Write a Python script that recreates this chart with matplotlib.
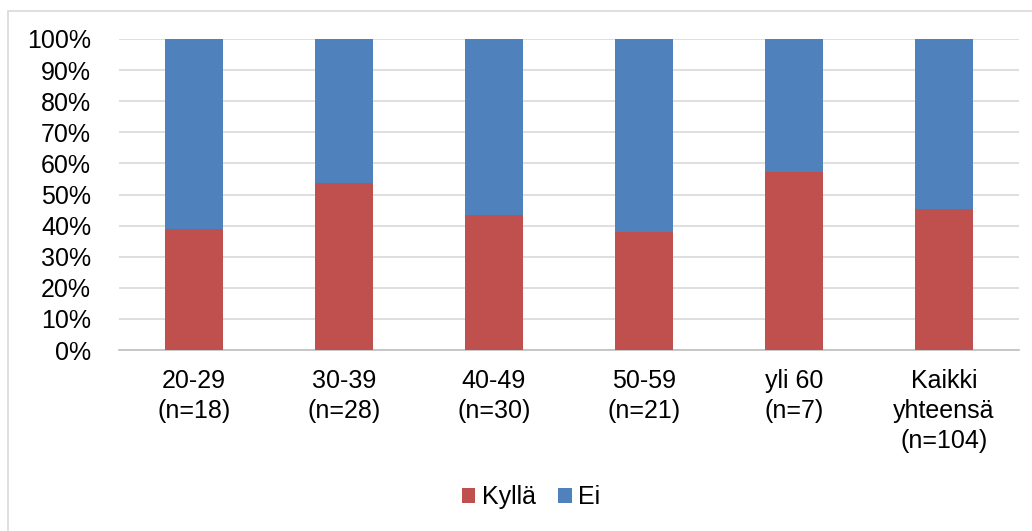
import numpy as np
import matplotlib.pyplot as plt
from matplotlib.patches import Rectangle
from matplotlib.ticker import PercentFormatter

plt.rcParams['font.family'] = ['Liberation Sans', 'DejaVu Sans']

# Ikäryhmät ja osuudet (%)
categories = ["20-29\n(n=18)", "30-39\n(n=28)", "40-49\n(n=30)", "50-59\n(n=21)",
              "yli 60\n(n=7)", "Kaikki\nyhteensä\n(n=104)"]
kylla = [38.9, 53.6, 43.3, 38.1, 57.1, 45.2]
ei = [61.1, 46.4, 56.7, 61.9, 42.9, 54.8]

FS = 18

fig = plt.figure(figsize=(10.32, 5.31), dpi=100)
ax = fig.add_axes([119 / 1032, 1 - 350 / 531, 900 / 1032, 311 / 531])

x = np.arange(len(categories))
ax.bar(x, kylla, width=0.39, color='#C0504D', label='Kyllä', zorder=3)
ax.bar(x, ei, width=0.39, bottom=kylla, color='#4F81BD', label='Ei', zorder=3)

ax.set_xlim(-0.5, len(categories) - 0.5)
ax.set_ylim(0, 100)
ax.set_yticks(np.arange(0, 101, 10))
ax.yaxis.set_major_formatter(PercentFormatter(decimals=0))
ax.set_xticks(x)
ax.set_xticklabels(categories, fontsize=FS, linespacing=1.3)
ax.tick_params(axis='y', labelsize=FS, length=0, pad=20)
ax.tick_params(axis='x', length=0, pad=14)
ax.grid(axis='y', color='#D9D9D9', linewidth=1.2, zorder=0)
for s in ['top', 'right', 'left']:
    ax.spines[s].set_visible(False)
ax.spines['bottom'].set_color('#BFBFBF')
ax.spines['bottom'].set_linewidth(1.2)

ax.legend(loc='center', bbox_to_anchor=(531 / 1032, 1 - 497 / 531),
          bbox_transform=fig.transFigure, ncol=2, frameon=False,
          fontsize=FS, handlelength=0.55, handleheight=0.55,
          handletextpad=0.25, columnspacing=0.9)

# Kaavion reunus
fig.patches.append(Rectangle((8 / 1032, -0.05), 1.1, 1 - 11 / 531 + 0.05,
                             transform=fig.transFigure, fill=False,
                             edgecolor='#D9D9D9', linewidth=1.2))

fig.savefig("out.png", dpi=100)
